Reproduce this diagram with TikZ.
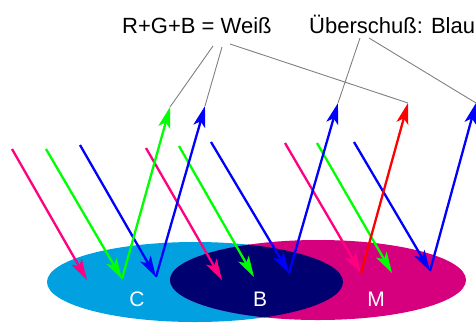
\documentclass[tikz,border=0pt]{standalone}
\usepackage{fontspec}
\setmainfont{Liberation Sans}
\usetikzlibrary{arrows.meta}
\definecolor{cyanC}{RGB}{0,160,225}
\definecolor{magM}{RGB}{214,0,127}
\definecolor{navyB}{RGB}{0,0,112}
\definecolor{pinkR}{RGB}{255,0,128}
\definecolor{greenG}{RGB}{0,255,0}
\definecolor{blueB}{RGB}{0,0,255}
\definecolor{redR}{RGB}{255,0,0}
\begin{document}
\begin{tikzpicture}[x=1pt,y=-1pt,
 ray/.style={line width=2.3pt,-{Stealth[length=21pt,width=12pt,inset=5pt]}},
 leader/.style={draw=gray,line width=0.9pt},
 lbl/.style={text=white,font=\fontsize{21}{24}\selectfont,inner sep=0pt},
 title/.style={font=\fontsize{22}{26}\selectfont,anchor=base west,inner sep=0pt}]
\useasboundingbox (0,0) rectangle (476,325);
% surfaces
\fill[cyanC] (195,282) ellipse[x radius=148pt,y radius=40pt];
\fill[magM] (318,280) ellipse[x radius=148pt,y radius=40pt];
\begin{scope}
\clip (318,280) ellipse[x radius=148pt,y radius=40pt];
\fill[navyB] (195,282) ellipse[x radius=148pt,y radius=40pt];
\end{scope}
\node[lbl] (lc) at (137,299) {C};
\node[lbl] (lb) at (260,299) {B};
\node[lbl] (lm) at (376,299) {M};
% points
\coordinate (s1) at (12,149);  \coordinate (e1) at (87,280);
\coordinate (s2) at (46,149);  \coordinate (e2) at (122,279);
\coordinate (s3) at (80,145);  \coordinate (e3) at (156,277);
\coordinate (s4) at (146,148); \coordinate (e4) at (222,280);
\coordinate (s5) at (179,146); \coordinate (e5) at (254,277);
\coordinate (s6) at (211,142); \coordinate (e6) at (289,273);
\coordinate (s7) at (285,143); \coordinate (e7) at (361,273);
\coordinate (s8) at (317,143); \coordinate (e8) at (392,273);
\coordinate (s9) at (354,142); \coordinate (e9) at (430,271);
\coordinate (u1) at (170,107);
\coordinate (u2) at (205,106);
\coordinate (u3) at (338,103);
\coordinate (u4) at (408,103);
\coordinate (u5) at (476,103);
% titles
\node[title] (t1) at (122,33) {R+G+B = Weiß};
\node[title] (t2) at (309,33) {Überschuß: Blau};
\coordinate (w1) at (213,46);
\coordinate (w2) at (222,47);
\coordinate (w3) at (230,44);
\coordinate (b1) at (360,38);
\coordinate (b2) at (369,38);
% leaders
\draw[leader] (w1) -- (u1);
\draw[leader] (w2) -- (u2);
\draw[leader] (w3) -- (u4);
\draw[leader] (b1) -- (u3);
\draw[leader] (b2) -- (u5);
% incoming rays
\draw[ray,pinkR] (s1) -- (e1);
\draw[ray,greenG] (s2) -- (e2);
\draw[ray,blueB] (s3) -- (e3);
\draw[ray,pinkR] (s4) -- (e4);
\draw[ray,greenG] (s5) -- (e5);
\draw[ray,blueB] (s6) -- (e6);
\draw[ray,pinkR] (s7) -- (e7);
\draw[ray,greenG] (s8) -- (e8);
\draw[ray,blueB] (s9) -- (e9);
% reflected rays
\draw[ray,greenG] (e2) -- (u1);
\draw[ray,blueB] (e3) -- (u2);
\draw[ray,blueB] (e6) -- (u3);
\draw[ray,redR] (e7) -- (u4);
\draw[ray,blueB] (e9) -- (u5);
\end{tikzpicture}
\end{document}
